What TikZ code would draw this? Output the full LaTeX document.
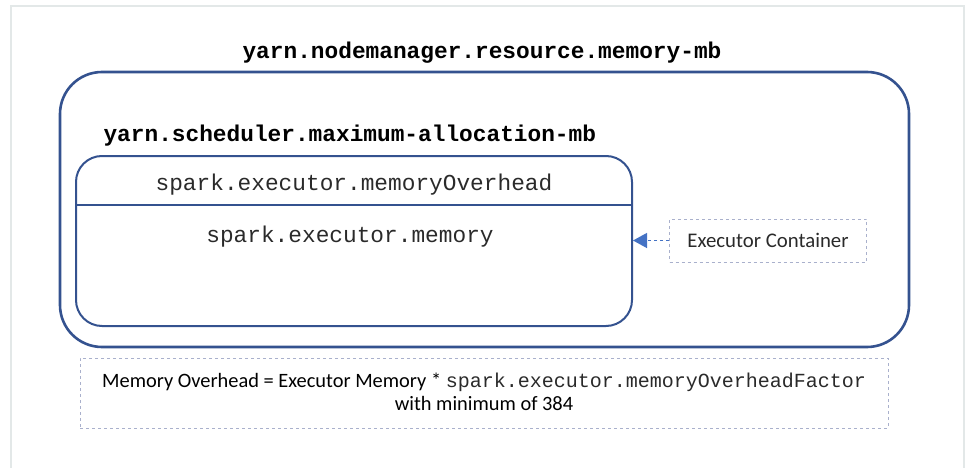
\documentclass[tikz,border=0pt]{standalone}
\usepackage{fontspec}
\setmainfont{Carlito}
\setmonofont{Liberation Mono}
\usetikzlibrary{arrows.meta}
\usetikzlibrary{positioning}
\definecolor{boxblue}{HTML}{34528F}
\definecolor{arrowblue}{HTML}{4472C4}
\definecolor{dashgray}{HTML}{A9B0CC}
\definecolor{framegray}{HTML}{E3E8E8}
\definecolor{textgray}{HTML}{2A2A2A}
\tikzset{bigbox/.style = {draw = boxblue, line width = 2.6pt, rounded corners = 42pt, inner sep = 0pt}}
\tikzset{memorybox/.style = {draw = boxblue, line width = 2pt, rounded corners = 26pt, inner sep = 0pt}}
\tikzset{notebox/.style = {draw = dashgray, dashed, line width = 1pt, inner sep = 0pt}}
\tikzset{monobold/.style = {font = \ttfamily\bfseries\fontsize{22.8}{26}\selectfont}}
\tikzset{monotext/.style = {text = textgray, font = \ttfamily\fontsize{22.8}{26}\selectfont}}

\begin{document}
\begin{tikzpicture}[x = 1pt, y = -1pt]
    \useasboundingbox (0, 0) rectangle (974, 468);
    \draw [framegray, line width = 1.5pt] (11, 490) -- (11, 6) -- (964, 6) -- (964, 490);

    \node [bigbox, minimum width = 849pt, minimum height = 275pt] (node manager) at (484.5, 209.5) {};
    \node [monobold] (nm label) at (482, 53) {yarn.nodemanager.resource.memory-mb};
    \node [monobold, anchor = west] (sched label) at (100, 135.5) {yarn.scheduler.maximum-allocation-mb};

    \node [memorybox, minimum width = 556pt, minimum height = 170pt] (container) at (354, 241) {};
    \coordinate (split) at (0, 205);
    \draw [boxblue, line width = 1.6pt] (container.west |- split) -- (container.east |- split);
    \node [monotext] (overhead) at (354, 185) {spark.executor.memoryOverhead};
    \node [monotext] (memory) at (350, 237) {spark.executor.memory};

    \node [notebox, text = textgray, minimum width = 197pt, minimum height = 43pt, font = \fontsize{20.8}{24}\selectfont] (executor) at (768, 240.5) {Executor Container};
    \draw [arrowblue, dashed, line width = 1.3pt, -{Triangle[length = 14pt, width = 15pt]}] (executor.west) -- (container.east |- executor.west);

    \node [notebox, minimum width = 808pt, minimum height = 70pt] (formula box) at (484, 393) {};
    \node [text = black, font = \fontsize{20.4}{23}\selectfont, align = center] (formula) at (484, 392)
        {Memory Overhead = Executor Memory * {\color{textgray}\ttfamily\fontsize{20}{23}\selectfont spark.executor.memoryOverheadFactor}\\with minimum of 384};
\end{tikzpicture}
\end{document}
